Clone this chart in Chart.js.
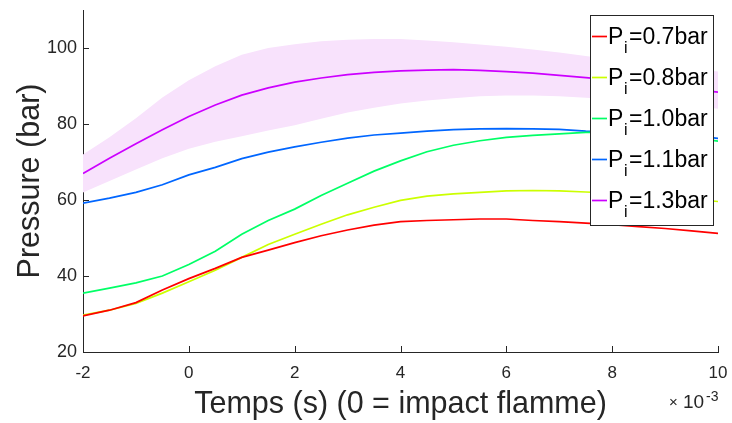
<!DOCTYPE html>
<html>
<head>
<meta charset="utf-8">
<script src="https://cdn.jsdelivr.net/npm/chart.js@4"></script>
<style>
  html, body { margin: 0; padding: 0; background: #fff; }
  #wrap { width: 732px; height: 423px; }
</style>
</head>
<body>
<div id="wrap"><canvas id="pressureChart" width="732" height="423"></canvas></div>
<script>
// temps en ms (axe affiché x10^-3 s)
const timeMs = [-2, -1.5, -1, -0.5, 0, 0.5, 1, 1.5, 2, 2.5, 3, 3.5, 4, 4.5, 5, 5.5, 6, 6.5, 7, 7.5, 8, 8.5, 9, 9.5, 10];

const p07 = [29.5, 31.0, 33.0, 36.3, 39.3, 42.0, 44.9, 46.8, 48.8, 50.6, 52.1, 53.4, 54.3, 54.6, 54.8, 55.0, 55.0, 54.6, 54.3, 53.9, 53.5, 53.0, 52.5, 51.9, 51.2];
const p08 = [29.7, 31.0, 32.8, 35.5, 38.5, 41.5, 44.9, 48.3, 51.0, 53.6, 56.1, 58.1, 59.9, 61.0, 61.6, 62.0, 62.4, 62.5, 62.4, 62.1, 61.8, 61.3, 60.7, 60.2, 59.6];
const p10 = [35.5, 36.8, 38.2, 40.0, 43.0, 46.5, 51.0, 54.6, 57.6, 61.2, 64.4, 67.6, 70.3, 72.7, 74.4, 75.6, 76.5, 77.0, 77.4, 77.8, 77.8, 77.6, 77.2, 76.5, 75.5];
const p11 = [59.2, 60.5, 62.0, 64.0, 66.6, 68.6, 70.9, 72.6, 74.0, 75.2, 76.3, 77.1, 77.6, 78.1, 78.5, 78.7, 78.8, 78.7, 78.6, 78.1, 78.0, 77.8, 77.4, 77.0, 76.2];
const p13 = [67.0, 71.0, 74.8, 78.5, 82.0, 85.0, 87.6, 89.5, 91.0, 92.1, 93.0, 93.6, 94.0, 94.2, 94.3, 94.1, 93.8, 93.4, 92.8, 92.2, 91.6, 90.8, 90.0, 89.2, 88.4];
// enveloppe (dispersion) de la série 1.3 bar
const p13Upper = [72.0, 76.5, 81.5, 87.0, 91.5, 95.2, 98.2, 100.0, 101.0, 101.8, 102.2, 102.4, 102.4, 102.0, 101.5, 100.9, 100.3, 99.6, 98.8, 97.9, 97.0, 96.2, 95.4, 94.6, 93.8];
const p13Lower = [62.0, 65.0, 68.0, 71.0, 73.5, 75.3, 76.8, 78.3, 79.7, 81.4, 83.0, 84.3, 85.4, 86.2, 86.8, 87.3, 87.5, 87.5, 87.3, 86.9, 86.5, 86.0, 85.4, 84.8, 84.0];

const seriesLabels = ['0.7bar', '0.8bar', '1.0bar', '1.1bar', '1.3bar'];
const xTicks = [-2, 0, 2, 4, 6, 8, 10];
const yTicks = [20, 40, 60, 80, 100];

const colors = ['rgb(255,0,0)', 'rgb(204,255,0)', 'rgb(0,255,102)', 'rgb(0,102,255)', 'rgb(204,0,255)'];
const FONT = '"Liberation Sans", Arial, Helvetica, sans-serif';
const INK = '#262626';

const pts = arr => arr.map((v, i) => ({ x: timeMs[i], y: v }));

const lineSet = (label, arr, color) => ({
    label: label,
    data: pts(arr),
    borderColor: color,
    borderWidth: 1.7,
    pointRadius: 0,
    fill: false,
    order: 1
});

const noPad = s => { s.paddingTop = 0; s.paddingBottom = 0; s.paddingLeft = 0; s.paddingRight = 0; };

// titres, marques de graduation et légende dessinés à la main
const decorations = {
    id: 'decorations',
    afterDraw(chart) {
        const ctx = chart.ctx;
        const x = chart.scales.x, y = chart.scales.y;
        ctx.save();

        ctx.strokeStyle = INK;
        ctx.lineWidth = 1;
        ctx.beginPath();
        xTicks.forEach(t => {
            const px = Math.round(x.getPixelForValue(t)) + 0.5;
            ctx.moveTo(px, y.bottom);
            ctx.lineTo(px, y.bottom - 6);
        });
        yTicks.forEach(t => {
            const py = Math.round(y.getPixelForValue(t)) + 0.5;
            ctx.moveTo(x.left, py);
            ctx.lineTo(x.left + 6, py);
        });
        ctx.stroke();

        ctx.fillStyle = INK;
        ctx.font = '30.5px ' + FONT;
        ctx.textAlign = 'center';
        ctx.textBaseline = 'alphabetic';
        ctx.fillText('Temps (s) (0 = impact flamme)', (x.left + x.right) / 2, 413);

        ctx.save();
        ctx.translate(39, (y.top + y.bottom) / 2);
        ctx.rotate(-Math.PI / 2);
        ctx.fillText('Pressure (bar)', 0, 0);
        ctx.restore();

        ctx.textAlign = 'left';
        ctx.font = '15px ' + FONT;
        ctx.fillText('\u00d7', 669, 407);
        ctx.font = '19px ' + FONT;
        ctx.fillText('10', 683, 408);
        ctx.font = '14px ' + FONT;
        ctx.fillText('-3', 706, 401);

        // légende
        const lx = 590, ly = 15, lw = 123, lh = 210;
        ctx.fillStyle = '#fff';
        ctx.fillRect(lx, ly, lw, lh);
        ctx.strokeStyle = INK;
        ctx.lineWidth = 1;
        ctx.strokeRect(lx + 0.5, ly + 0.5, lw, lh);
        seriesLabels.forEach((lab, i) => {
            const base = 43.5 + i * 41;
            ctx.strokeStyle = colors[i];
            ctx.lineWidth = 1.7;
            ctx.beginPath();
            ctx.moveTo(592, base - 7);
            ctx.lineTo(607, base - 7);
            ctx.stroke();
            ctx.fillStyle = '#000';
            ctx.font = '23px ' + FONT;
            ctx.fillText('P', 608, base);
            ctx.font = '16px ' + FONT;
            ctx.fillText('i', 624, base + 9.5);
            ctx.font = '23px ' + FONT;
            ctx.fillText('=' + lab, 629, base);
        });

        ctx.restore();
    }
};

new Chart(document.getElementById('pressureChart').getContext('2d'), {
    type: 'line',
    data: {
        datasets: [
            lineSet('0.7bar', p07, colors[0]),
            lineSet('0.8bar', p08, colors[1]),
            lineSet('1.0bar', p10, colors[2]),
            lineSet('1.1bar', p11, colors[3]),
            lineSet('1.3bar', p13, colors[4]),
            {
                label: 'env haut',
                data: pts(p13Upper),
                borderWidth: 0,
                pointRadius: 0,
                backgroundColor: 'rgb(248,226,252)',
                fill: '+1',
                order: 10
            },
            {
                label: 'env bas',
                data: pts(p13Lower),
                borderWidth: 0,
                pointRadius: 0,
                fill: false,
                order: 10
            }
        ]
    },
    options: {
        responsive: false,
        animation: false,
        layout: { padding: { top: 10, right: 14, left: 0, bottom: 0 } },
        plugins: { legend: { display: false }, tooltip: { enabled: false } },
        scales: {
            x: {
                type: 'linear',
                min: -2,
                max: 10,
                afterFit: s => { s.height = 71; noPad(s); },
                afterBuildTicks: s => { s.ticks = xTicks.map(v => ({ value: v })); },
                grid: { display: false, drawTicks: false },
                border: { display: true, color: INK, width: 1 },
                ticks: { color: INK, font: { family: FONT, size: 17 }, padding: 11, maxRotation: 0 }
            },
            y: {
                type: 'linear',
                min: 20,
                max: 110,
                afterFit: s => { s.width = 83; noPad(s); },
                afterBuildTicks: s => { s.ticks = yTicks.map(v => ({ value: v })); },
                grid: { display: false, drawTicks: false },
                border: { display: true, color: INK, width: 1 },
                ticks: { color: INK, font: { family: FONT, size: 18 }, padding: 6 }
            }
        }
    },
    plugins: [decorations]
});
</script>
</body>
</html>
